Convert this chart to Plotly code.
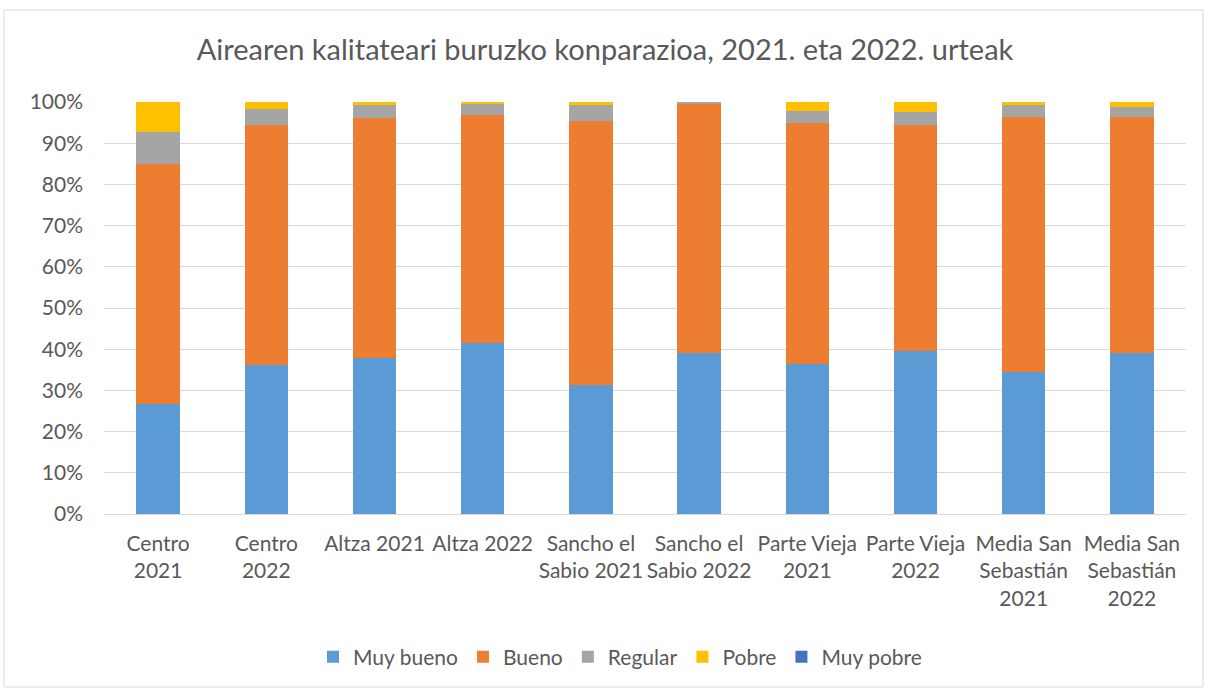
import plotly.graph_objects as go

categories = [
    "Centro<br>2021", "Centro<br>2022", "Altza 2021", "Altza 2022",
    "Sancho el<br>Sabio 2021", "Sancho el<br>Sabio 2022",
    "Parte Vieja<br>2021", "Parte Vieja<br>2022",
    "Media San<br>Sebastián<br>2021", "Media San<br>Sebastián<br>2022",
]

muy_bueno = [26.7, 36.2, 37.9, 41.5, 31.2, 39.2, 36.3, 39.5, 34.5, 39.0]
bueno     = [58.3, 58.3, 58.3, 55.3, 64.3, 60.4, 58.5, 55.0, 61.9, 57.3]
regular   = [7.8, 3.9, 3.0, 2.8, 3.8, 0.4, 3.1, 3.0, 2.8, 2.6]
pobre     = [7.2, 1.6, 0.8, 0.4, 0.7, 0.0, 2.1, 2.5, 0.8, 1.1]
muy_pobre = [0.0, 0.0, 0.0, 0.0, 0.0, 0.0, 0.0, 0.0, 0.0, 0.0]

series = [
    ("Muy bueno", muy_bueno, "#5B9BD5"),
    ("Bueno", bueno, "#ED7D31"),
    ("Regular", regular, "#A5A5A5"),
    ("Pobre", pobre, "#FFC000"),
    ("Muy pobre", muy_pobre, "#4472C4"),
]

FONT = "Lato, 'Open Sans', sans-serif"
TXT = "#595959"

fig = go.Figure()
for name, vals, color in series:
    fig.add_trace(go.Bar(
        x=categories, y=vals, name=name,
        marker=dict(color=color, line=dict(width=0)),
    ))

W, H = 1210, 689
L, R, T, B = 104, 24, 102, 175
pw, ph = W - L - R, H - T - B

def px_x(px):
    return (px - L) / pw

def px_y(py):
    return (H - B - py) / ph

fig.update_layout(
    width=W, height=H,
    barmode="stack",
    barnorm="percent",
    bargap=0.6,
    margin=dict(l=L, r=R, t=T, b=B),
    paper_bgcolor="white",
    plot_bgcolor="white",
    font=dict(family=FONT, color=TXT, size=21),
    title=dict(
        text="Airearen kalitateari buruzko konparazioa, 2021. eta 2022. urteak",
        x=0.5, xanchor="center", y=1 - 50 / H, yanchor="middle",
        font=dict(family=FONT, size=29, color=TXT),
    ),
    xaxis=dict(
        showgrid=False, showline=False, ticks="",
        ticklabelstandoff=15,
        tickfont=dict(size=21, color=TXT),
    ),
    yaxis=dict(
        range=[0, 100], dtick=10, ticksuffix="%",
        showgrid=True, gridcolor="#D9D9D9", gridwidth=1,
        zeroline=True, zerolinecolor="#D9D9D9", zerolinewidth=1,
        showline=False, ticks="", ticklen=0,
        ticklabelstandoff=20,
        tickfont=dict(size=21, color=TXT),
    ),
    legend=dict(
        orientation="h", x=px_x(620), xanchor="center",
        y=px_y(657), yanchor="middle",
        font=dict(size=21, color=TXT),
        traceorder="normal",
        itemwidth=30,
    ),
    shapes=[dict(
        type="rect", xref="paper", yref="paper",
        x0=px_x(4), x1=px_x(1203), y0=px_y(687), y1=px_y(10),
        line=dict(color="#D9D9D9", width=1), fillcolor="rgba(0,0,0,0)",
        layer="below",
    )],
)

fig.write_html("out.html")
